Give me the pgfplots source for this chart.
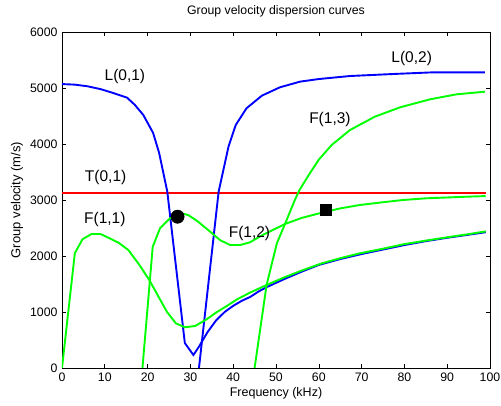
\documentclass[border=0pt]{standalone}
\usepackage{pgfplots}
\pgfplotsset{compat=1.18}
\usepackage{fontspec}
\setmainfont{Liberation Sans}
\begin{document}
\begin{tikzpicture}
\begin{axis}[
  scale only axis,
  width=428pt, height=336pt,
  xmin=0, xmax=100, ymin=0, ymax=6000,
  xtick={0,10,...,100}, ytick={0,1000,...,6000},
  tick align=inside, major tick length=4pt,
  axis line style={black, line width=0.8pt},
  tick style={black, line width=0.6pt},
  /pgf/number format/assume math mode=true,
  /pgf/number format/1000 sep={},
  ticklabel style={font=\fontsize{12.3}{14}\selectfont},
  xticklabel style={yshift=-1pt},
  yticklabel style={xshift=-1pt},
  scaled y ticks=false,
  title={Group velocity dispersion curves},
  title style={font=\fontsize{12.3}{14}\selectfont, at={(axis description cs:0.5,1)}, anchor=center, yshift=15pt},
  xlabel={Frequency (kHz)},
  xlabel style={font=\fontsize{12.5}{14}\selectfont, at={(axis description cs:0.5,0)}, anchor=center, yshift=-25pt},
  ylabel={Group velocity (m/s)},
  ylabel style={font=\fontsize{13}{14}\selectfont, at={(axis description cs:-0.105,0.5)}, anchor=center},
  clip=true,
]
% T(0,1)
\addplot[red, line width=1.9pt] coordinates {(0,3130) (99,3130)};
% L(0,1) and its lower branch
\addplot[blue, line width=1.9pt] coordinates {
(0,5070) (3,5060) (6,5030) (9,4980) (12,4910) (15.2,4827) (17,4700) (19,4518)
(21.3,4196) (22.7,3839) (24.6,3150) (28.7,446) (30.7,232) (32,380) (34,640)
(36,850) (38,1000) (40,1110) (42,1200) (44,1270) (46,1370) (48,1450) (52,1590)
(56,1720) (60,1840) (65,1945) (70,2035) (75,2115) (80,2195) (85,2265) (90,2325)
(95,2380) (99,2425)};
% L(0,2)
\addplot[blue, line width=1.9pt] coordinates {
(32,0) (36.6,3150) (38.9,3952) (40.6,4340) (43.1,4637) (46.7,4863) (50.9,5012)
(55.6,5113) (60,5160) (67.3,5214) (77.4,5250) (86.8,5280) (98.8,5280)};
% F(1,1)
\addplot[green, line width=1.9pt] coordinates {
(0,0) (3,2050) (4.8,2300) (6.9,2393) (9,2393) (11,2320) (13.2,2238) (15.5,2107)
(18,1850) (20.4,1571) (22.5,1280) (24.5,1005) (26.6,798) (28.7,727) (31.1,750)
(33.8,870) (36,990) (38.5,1107) (41,1230) (43.9,1345) (47.8,1482) (52,1620)
(56,1740) (60.7,1869) (65,1960) (69.6,2048) (75,2130) (79.7,2208) (85,2275)
(89.9,2333) (95,2390) (99,2440)};
% F(1,2)
\addplot[green, line width=1.9pt] coordinates {
(18.8,0) (21.2,2167) (22.9,2494) (25.2,2673) (28,2762) (29.5,2730) (31.5,2631)
(34.6,2435) (37,2280) (39.3,2196) (41.6,2196) (43.9,2244) (47,2380) (52.1,2571)
(56,2680) (60.7,2773) (65,2850) (69.6,2911) (75,2960) (79.7,3000) (85,3030)
(90,3045) (95,3060) (99,3070)};
% F(1,3)
\addplot[green, line width=1.9pt] coordinates {
(45,0) (47.8,1482) (50.2,2226) (52.1,2571) (54.4,3000) (55.5,3180) (57.9,3476)
(60,3720) (63,3982) (67.3,4250) (73.1,4488) (79,4655) (86,4798) (92.2,4887)
(98.8,4934)};
% markers
\addplot[only marks, mark=*, mark size=6.7pt, black] coordinates {(27,2702)};
\addplot[only marks, mark=square*, mark size=5.5pt, black] coordinates {(61.7,2821)};
% labels
\node[font=\fontsize{15.5}{17}\selectfont] at (axis cs:14.7,5214) {L(0,1)};
\node[font=\fontsize{15.5}{17}\selectfont] at (axis cs:81.7,5518) {L(0,2)};
\node[font=\fontsize{15.5}{17}\selectfont] at (axis cs:62.6,4429) {F(1,3)};
\node[font=\fontsize{15.5}{17}\selectfont] at (axis cs:10.2,3393) {T(0,1)};
\node[font=\fontsize{15.5}{17}\selectfont] at (axis cs:10.0,2643) {F(1,1)};
\node[font=\fontsize{15.5}{17}\selectfont] at (axis cs:43.8,2400) {F(1,2)};
\end{axis}
\pgfresetboundingbox
\path[use as bounding box] (-62pt,-38pt) rectangle (439pt,368pt);
\end{tikzpicture}
\end{document}
